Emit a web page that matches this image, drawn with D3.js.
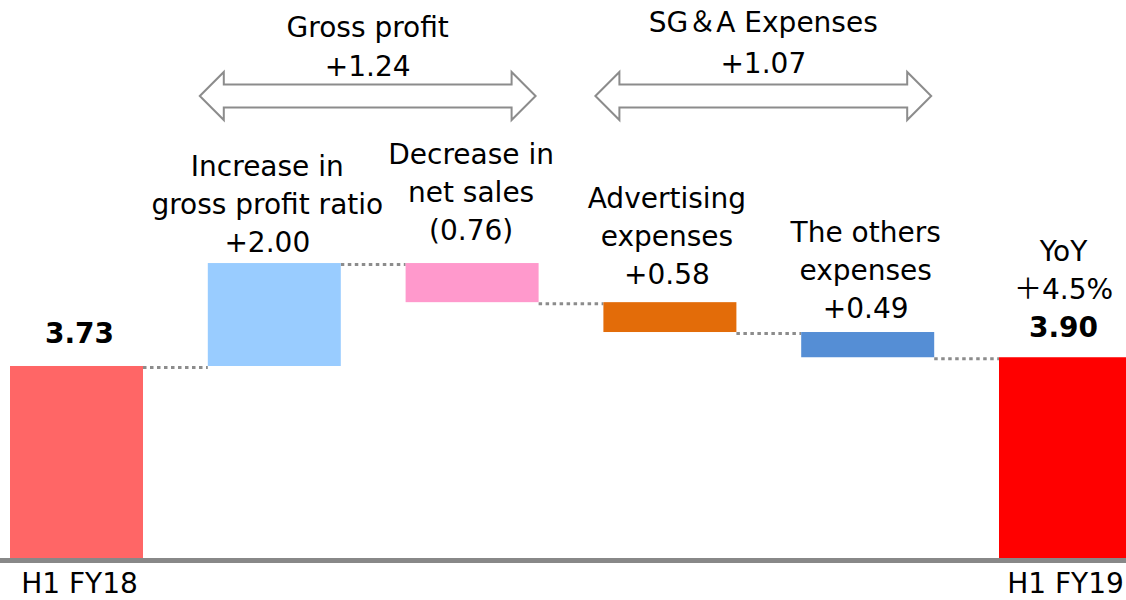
<!DOCTYPE html>
<html>
<head>
<meta charset="utf-8">
<script src="https://cdn.jsdelivr.net/npm/d3@7"></script>
<style>
  body { margin: 0; background: #fff; }
  text { font-family: "DejaVu Sans", "Noto Sans CJK JP", sans-serif; fill: #000; }
</style>
</head>
<body>
<script>
// waterfall: H1 FY18 -> H1 FY19
const categories = ["H1 FY18", "gross profit ratio", "net sales", "advertising", "others", "H1 FY19"];
const kinds = ["total", "delta", "delta", "delta", "delta", "total"];
const values = [3.73, 2.00, -0.76, -0.58, -0.49, 3.90];
const valueLabels = ["3.73", "+2.00", "(0.76)", "+0.58", "+0.49", "3.90"];
const labelLines = [
    [],
    ["Increase in", "gross profit ratio"],
    ["Decrease in", "net sales"],
    ["Advertising", "expenses"],
    ["The others", "expenses"],
    ["YoY", "\uFF0B4.5%"]
];
const barColors = ["#ff6666", "#99ccff", "#ff99cc", "#e36c09", "#558ed5", "#ff0000"];

const groupNames = ["Gross profit", "SG\uFF06A Expenses"];
const groupValues = ["+1.24", "+1.07"];
const groupFrom = [1, 3];
const groupTo = [2, 4];

// layout
const width = 1126, height = 600;
const baseY = 558;
const fontSize = 28;
const lineH = 38;
const labelLift = [23, 11, 23, 18, 14, 20];
const labelDx = [3, -7, -1, -3, -2, -2];
const groupNameY = [37, 32];
const groupValueY = [76, 73];

const svg = d3.select("body").append("svg")
    .attr("width", width)
    .attr("height", height);

const x = d3.scaleBand()
    .domain(categories)
    .range([10, 1132])
    .paddingInner(0.3276)
    .paddingOuter(0);

const y = d3.scaleLinear()
    .domain([0, 10.84])
    .range([baseY, 0]);

// running totals
let running = 0;
const bars = categories.map((c, i) => {
    let lo, hi, end;
    if (kinds[i] === "total") {
        lo = 0; hi = values[i]; end = values[i];
    } else {
        const start = running;
        end = running + values[i];
        lo = Math.min(start, end); hi = Math.max(start, end);
    }
    running = end;
    return { cat: c, i, lo, hi, end };
});

// connectors (dotted)
svg.append("g").selectAll("line")
    .data(bars.slice(0, -1))
    .join("line")
    .attr("x1", d => x(d.cat) + x.bandwidth())
    .attr("x2", d => x(categories[d.i + 1]))
    .attr("y1", d => y(d.end) + 1.5)
    .attr("y2", d => y(d.end) + 1.5)
    .attr("stroke", "#8c8c8c")
    .attr("stroke-width", 3)
    .attr("stroke-dasharray", "3.5,3.5");

svg.append("g").selectAll("rect")
    .data(bars)
    .join("rect")
    .attr("x", d => x(d.cat))
    .attr("y", d => y(d.hi))
    .attr("width", x.bandwidth())
    .attr("height", d => y(d.lo) - y(d.hi))
    .attr("fill", (d, i) => barColors[i]);

// axis: only first and last label shown
const axis = svg.append("g")
    .attr("transform", `translate(0,${baseY})`)
    .call(d3.axisBottom(x).tickSize(0).tickValues([categories[0], categories[5]]).tickPadding(25));
axis.select(".domain").remove();
axis.selectAll(".tick text")
    .attr("font-size", fontSize)
    .attr("font-family", null)
    .attr("dx", (d, i) => i === 0 ? 3 : 0)
    .attr("dy", "0.71em");
axis.selectAll(".tick text").attr("y", 15);

svg.append("line")
    .attr("x1", 0).attr("x2", width)
    .attr("y1", baseY + 2.5).attr("y2", baseY + 2.5)
    .attr("stroke", "#888")
    .attr("stroke-width", 5);

// labels above bars
const lbl = svg.append("g").selectAll("g")
    .data(bars)
    .join("g")
    .attr("transform", (d, i) => `translate(${x(d.cat) + x.bandwidth() / 2 + labelDx[i]},${y(d.hi) - labelLift[i]})`);

lbl.append("text")
    .attr("text-anchor", "middle")
    .attr("font-size", fontSize)
    .attr("font-weight", (d, i) => kinds[i] === "total" ? "bold" : "normal")
    .text((d, i) => valueLabels[i]);

lbl.each(function(d, i) {
    const lines = labelLines[i];
    d3.select(this).selectAll("text.line")
        .data(lines)
        .join("text")
        .attr("class", "line")
        .attr("text-anchor", "middle")
        .attr("font-size", fontSize)
        .attr("y", (t, k) => -(lines.length - k) * lineH)
        .text(t => t);
});

// double-headed arrows for groups
const arrowMid = 96, shaftH = 11.5, headH = 24, headL = 24;
groupNames.forEach((name, g) => {
    const x0 = x(categories[groupFrom[g]]) - 8;
    const x1 = x(categories[groupTo[g]]) + x.bandwidth() - 3;
    const pts = [
        [x0, arrowMid],
        [x0 + headL, arrowMid - headH],
        [x0 + headL, arrowMid - shaftH],
        [x1 - headL, arrowMid - shaftH],
        [x1 - headL, arrowMid - headH],
        [x1, arrowMid],
        [x1 - headL, arrowMid + headH],
        [x1 - headL, arrowMid + shaftH],
        [x0 + headL, arrowMid + shaftH],
        [x0 + headL, arrowMid + headH]
    ];
    svg.append("path")
        .attr("d", d3.line()(pts) + "Z")
        .attr("fill", "#fff")
        .attr("stroke", "#8c8c8c")
        .attr("stroke-width", 2);

    const cx = (x0 + x1) / 2;
    svg.append("text")
        .attr("x", cx).attr("y", groupNameY[g])
        .attr("text-anchor", "middle")
        .attr("font-size", fontSize)
        .text(name);
    svg.append("text")
        .attr("x", cx).attr("y", groupValueY[g])
        .attr("text-anchor", "middle")
        .attr("font-size", fontSize)
        .text(groupValues[g]);
});
</script>
</body>
</html>
